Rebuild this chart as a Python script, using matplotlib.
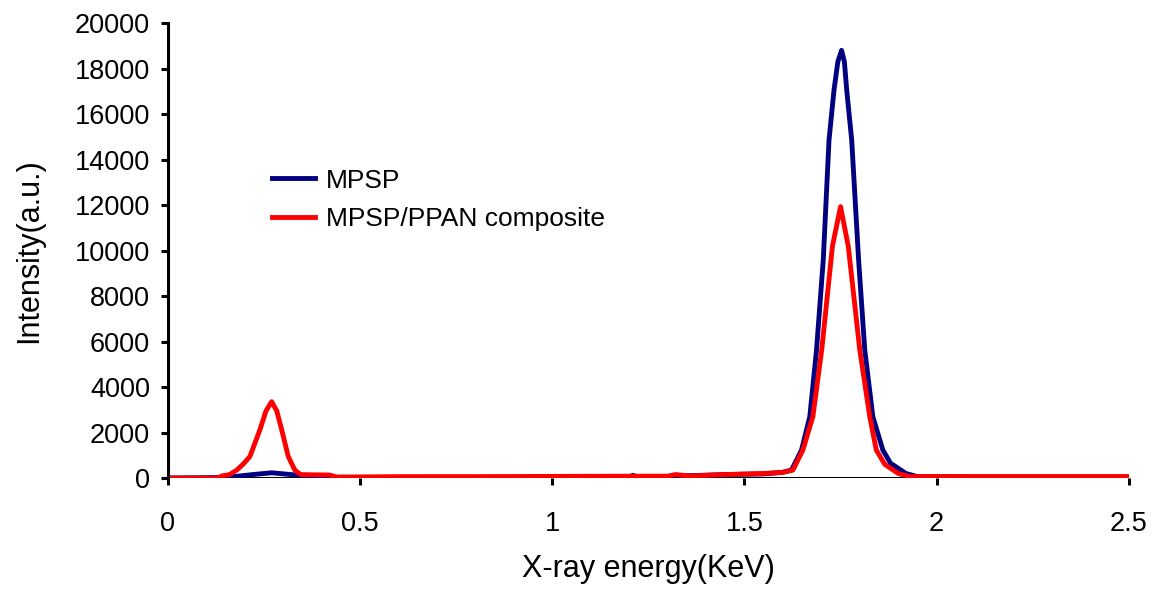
import numpy as np
import matplotlib.pyplot as plt

plt.rcParams['font.family'] = ['Liberation Sans', 'DejaVu Sans']

# MPSP spectrum
mpsp_e = [0, 0.13, 0.17, 0.22, 0.27, 0.32, 0.38, 0.42, 0.5, 0.7, 0.9, 1.1,
          1.2, 1.21, 1.22, 1.3, 1.32, 1.35, 1.45, 1.55, 1.60, 1.6225, 1.6485,
          1.670, 1.6875, 1.705, 1.720, 1.733, 1.743, 1.7526, 1.760, 1.766,
          1.779, 1.797, 1.813, 1.834, 1.860, 1.880, 1.92, 1.95, 2.1, 2.3, 2.5]
mpsp_i = [0, 20, 60, 150, 230, 150, 80, 30, 20, 30, 30, 40,
          40, 120, 40, 60, 120, 100, 150, 180, 250, 350, 1230,
          2700, 5630, 9580, 14860, 17060, 18300, 18800, 18300, 17060,
          14860, 9580, 5630, 2700, 1230, 650, 200, 60, 50, 50, 50]

# MPSP/PPAN composite spectrum
comp_e = [0, 0.13, 0.14, 0.16, 0.179, 0.195, 0.213, 0.239, 0.255, 0.2697,
          0.283, 0.296, 0.313, 0.330, 0.345, 0.42, 0.44, 0.6, 0.8, 1.0, 1.2,
          1.30, 1.32, 1.36, 1.45, 1.55, 1.60, 1.626, 1.652, 1.678, 1.701,
          1.729, 1.750, 1.770, 1.800, 1.826, 1.843, 1.865, 1.90, 1.93, 2.1,
          2.3, 2.5]
comp_i = [0, 0, 90, 150, 350, 600, 940, 2110, 2950, 3355,
          2950, 2110, 940, 350, 150, 130, 40, 60, 60, 70, 80,
          80, 150, 90, 150, 200, 250, 350, 1230, 2700, 5630,
          10200, 11930, 10200, 5630, 2700, 1230, 600, 200, 60, 60,
          60, 60]

fig = plt.figure(figsize=(11.53, 5.91), dpi=100)
ax = fig.add_axes([0.1457, 0.1912, 0.8333, 0.7698])

ax.plot(mpsp_e, mpsp_i, color='#000080', lw=3.5, solid_joinstyle='round',
        label='MPSP')
ax.plot(comp_e, comp_i, color='#FF0000', lw=3.5, solid_joinstyle='round',
        label='MPSP/PPAN composite')
ax.axhline(0, color='black', lw=2.2, zorder=1)

ax.set_xlim(0, 2.5)
ax.set_ylim(0, 20000)
ax.set_xticks([0, 0.5, 1, 1.5, 2, 2.5])
ax.set_xticklabels(['0', '0.5', '1', '1.5', '2', '2.5'])
ax.set_yticks(np.arange(0, 20001, 2000))

for s in ['top', 'right', 'bottom']:
    ax.spines[s].set_visible(False)
ax.spines['left'].set_linewidth(2.2)
ax.tick_params(axis='both', direction='out', length=5, width=2.2,
               labelsize=19.5, pad=8)
ax.tick_params(axis='x', pad=19)

ax.set_xlabel('X-ray energy(KeV)', fontsize=22, labelpad=12)
ax.set_ylabel('Intensity(a.u.)', fontsize=22, labelpad=22)

ax.legend(loc='upper left', bbox_to_anchor=(0.215, 0.755),
          bbox_transform=fig.transFigure, frameon=False, fontsize=19,
          handlelength=1.65, handletextpad=0.4, labelspacing=0.55)

fig.savefig('out.png', dpi=100)
